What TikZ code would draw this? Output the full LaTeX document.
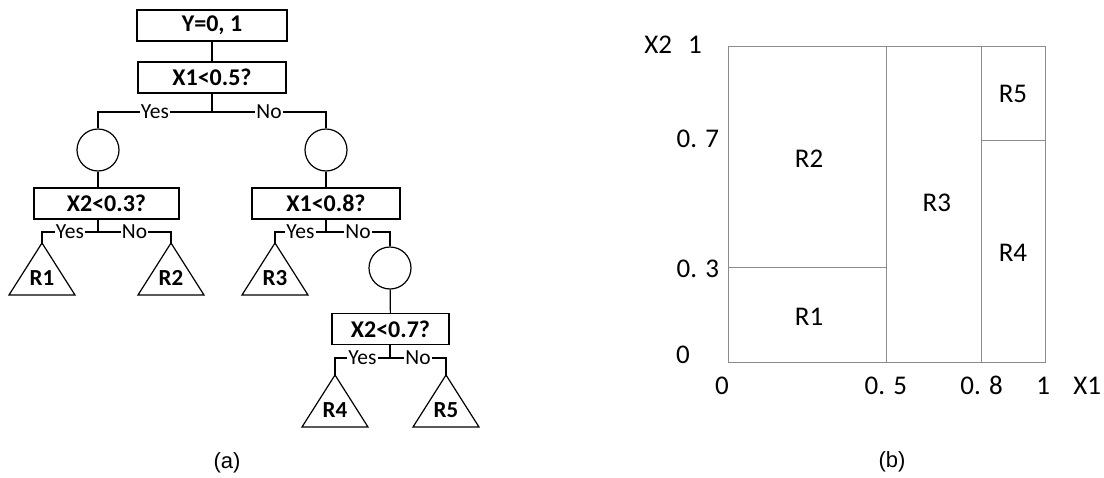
\documentclass[tikz,border=0pt]{standalone}
\usepackage{fontspec}
\setmainfont{Carlito}
\newfontfamily\capfont{Liberation Sans}
\usetikzlibrary{positioning,calc}
\definecolor{split}{HTML}{8C8C8C}

\begin{document}
\begin{tikzpicture}[x=1pt, y=-1pt, line width=1.2pt,
  qbox/.style={draw, minimum height=31pt, inner sep=0pt, font=\fontsize{24}{28}\selectfont\bfseries},
  chance/.style={draw, circle, minimum size=42pt, inner sep=0pt},
  yn/.style={fill=white, inner sep=1pt, font=\fontsize{21.5}{24}\selectfont},
  leaf/.style={font=\fontsize{23}{26}\selectfont\bfseries},
  reg/.style={font=\fontsize{27}{30}\selectfont, text height=0.62em, text depth=0pt, yshift=-4pt},
  subcap/.style={font=\capfont\fontsize{22}{26}\selectfont}]
\useasboundingbox (0,0) rectangle (1104,477);
% tree
\node[qbox, minimum width=150pt] (root) at (212,25.5) {Y=0, 1};
\node[qbox, minimum width=148pt] (q1) at (212,77.5) {X1<0.5?};
\coordinate (j1) at (212,112);
\node[chance] (c1) at (98,150) {};
\node[chance] (c2) at (326,150) {};
\node[qbox, minimum width=145pt] (q2) at (106.5,203.5) {X2<0.3?};
\node[qbox, minimum width=148pt] (q3) at (326,203.5) {X1<0.8?};
\coordinate (j2) at (98,232);
\coordinate (j3) at (326,232);
\node[chance] (c3) at (390,268) {};
\node[qbox, minimum width=117pt] (q4) at (390.5,329) {X2<0.7?};
\coordinate (j4) at (390,358);
% leaves
\coordinate (t1) at (42,243);
\coordinate (t2) at (171,243);
\coordinate (t3) at (275,243);
\coordinate (t4) at (335,375);
\coordinate (t5) at (446,375);
\foreach \t in {t1,t2,t3,t4,t5}
  \draw (\t) -- ++(33,52) -- ++(-66,0) -- cycle;
\node[leaf] (l1) at (42,278) {R1};
\node[leaf] (l2) at (171,278) {R2};
\node[leaf] (l3) at (275,278) {R3};
\node[leaf] (l4) at (335,410) {R4};
\node[leaf] (l5) at (446,410) {R5};
% branches
\draw (root) -- (q1);
\draw (q1) -- (j1);
\draw (j1) -| (c1) node[yn, pos=0.25] {Yes};
\draw (j1) -| (c2) node[yn, pos=0.25] {No};
\draw (c1) -- (c1 |- q2.north);
\draw (c2) -- (q3);
\draw (c1 |- q2.south) -- (j2);
\draw (j2) -| (t1) node[yn, pos=0.25] {Yes};
\draw (j2) -| (t2) node[yn, pos=0.25] {No};
\draw (q3) -- (j3);
\draw (j3) -| (t3) node[yn, pos=0.25] {Yes};
\draw (j3) -| (c3) node[yn, pos=0.25] {No};
\draw (c3) -- (q4);
\draw (q4.south -| j4) -- (j4);
\draw (j4) -| (t4) node[yn, pos=0.25] {Yes};
\draw (j4) -| (t5) node[yn, pos=0.25] {No};
\node[subcap] (capa) at (227,463) {(a)};
% partition of the unit square
\begin{scope}[shift={(728,362)}, x=317pt, y=316pt]
\draw[split, line width=0.9pt] (0,0) rectangle (1,1);
\draw[split, line width=0.9pt] (0.5,0) -- (0.5,1) (0.8,0) -- (0.8,1)
  (0,0.3) -- (0.5,0.3) (0.8,0.7) -- (1,0.7);
\foreach \r/\p in {R1/{(0.256,0.139)}, R2/{(0.256,0.639)}, R3/{(0.659,0.5)},
  R4/{(0.899,0.342)}, R5/{(0.899,0.845)}}
  \node[reg] (reg\r) at \p {\r};
% ticks
\node[reg] (y0) at (-0.142,0.019) {0};
\node[reg] (y3) at (-0.095,0.29) {0. 3};
\node[reg] (y7) at (-0.095,0.70) {0. 7};
\node[reg] (y1) at (-0.104,1.0) {1};
\node[reg] (ylab) at (-0.22,1.0) {X2};
\node[reg] (x0) at (-0.019,-0.079) {0};
\node[reg] (x5) at (0.498,-0.079) {0. 5};
\node[reg] (x8) at (0.80,-0.079) {0. 8};
\node[reg] (x1) at (0.994,-0.079) {1};
\node[reg] (xlab) at (1.133,-0.079) {X1};
\end{scope}
\node[subcap] (capb) at (892,462) {(b)};
\end{tikzpicture}
\end{document}
